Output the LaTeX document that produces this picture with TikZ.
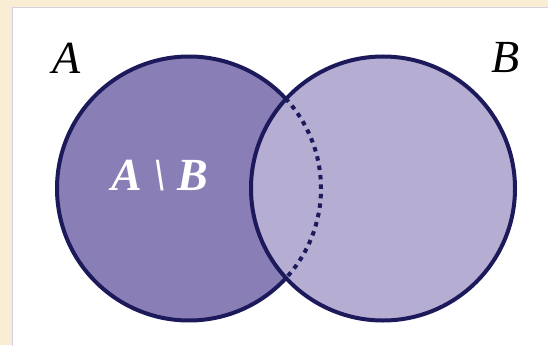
\documentclass[tikz,border=0pt]{standalone}
\usepackage{fontspec}
\setmainfont{Liberation Serif}
\definecolor{cream}{HTML}{F9EED3}
\definecolor{boxline}{HTML}{D6CFE0}
\definecolor{setdark}{HTML}{8A7EB6}
\definecolor{setlight}{HTML}{B6ADD3}
\definecolor{rim}{HTML}{1C1A5A}
\begin{document}
\begin{tikzpicture}[
    x=1pt, y=-1pt,
    rimline/.style={draw=rim, line width=4pt},
    dotline/.style={rimline, line cap=butt, dash pattern=on 4.5pt off 5pt},
    setlabel/.style={font=\fontsize{46}{50}\selectfont\itshape, text=black, inner sep=0pt}
]

    % --- BACKGROUND ---
    \useasboundingbox (0,0) rectangle (548,345);
    \fill[cream] (0,0) rectangle (548,345);
    \filldraw[fill=white, draw=boxline, line width=1pt] (12.5,7.5) rectangle (549,346);

    % Define coordinates
    \coordinate (cA) at (189,188.5); % centre of A
    \coordinate (cB) at (383,188.5); % centre of B

    % Fill sets
    \fill[setdark] (cA) circle (132);
    \fill[setlight] (cB) circle (132);

    % Draw outlines
    \draw[rimline] (cB) circle (132);
    \draw[rimline] ([shift={(43:132)}]cA) arc (43:317:132);
    \draw[dotline] ([shift={(-43:132)}]cA) arc (-43:43:132);

    % Labels
    \node[setlabel] (labA) at (67,58) {A};
    \node[setlabel] (labB) at (506,58) {B};
    \node[setlabel, font=\fontsize{46}{50}\selectfont\bfseries\itshape, text=white] (labDiff) at (160,176) {A \textbackslash\ B};

\end{tikzpicture}
\end{document}
